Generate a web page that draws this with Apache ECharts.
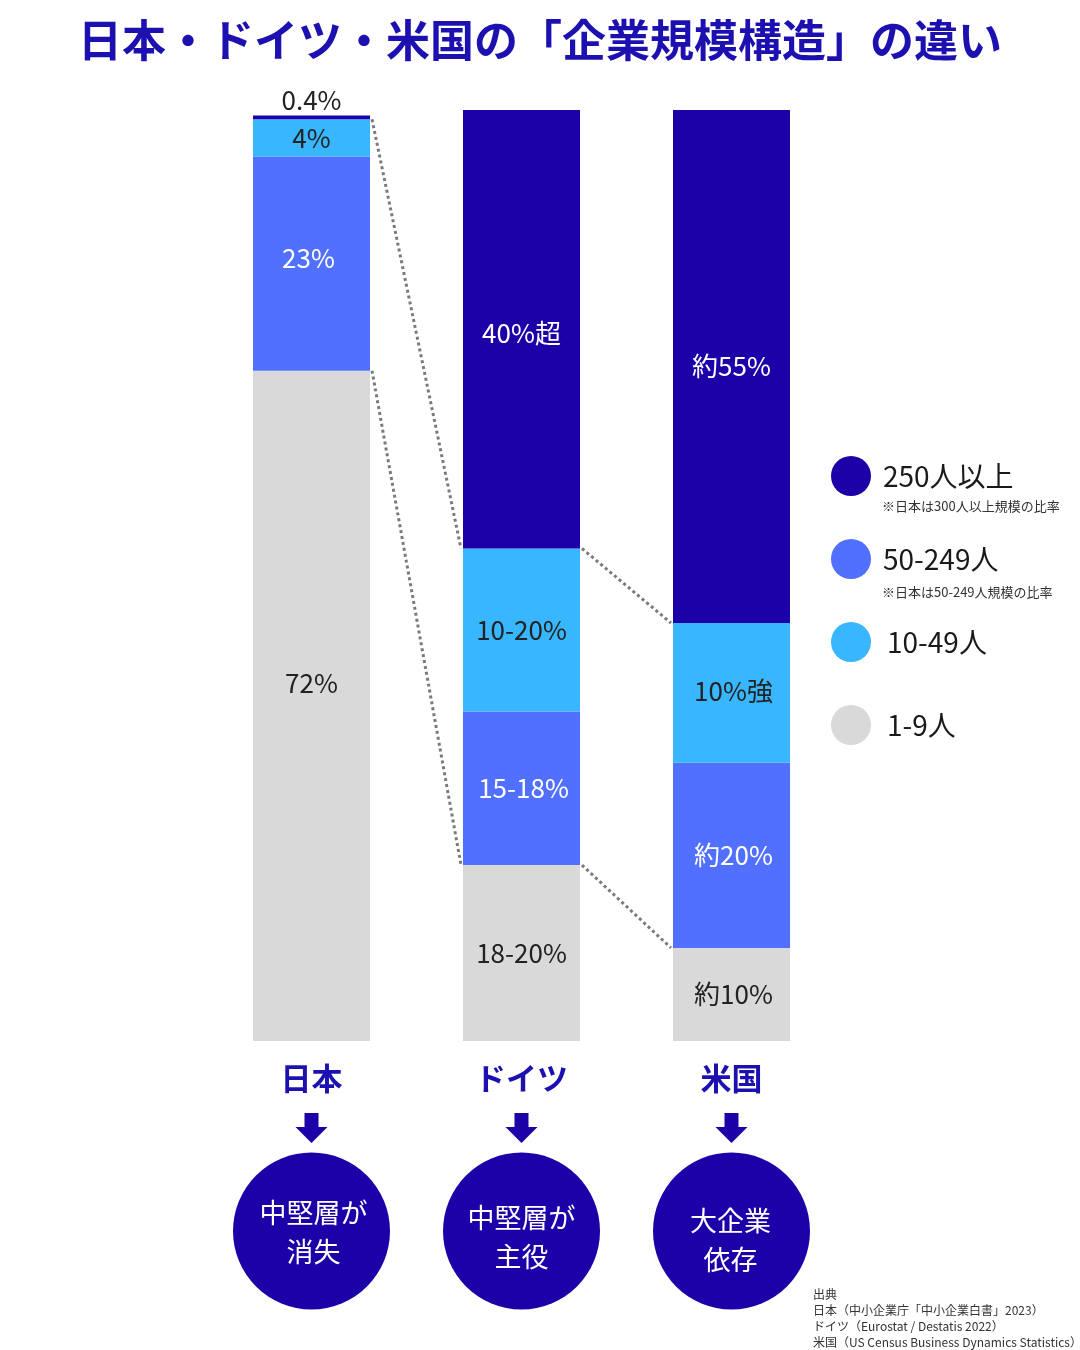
<!DOCTYPE html>
<html>
<head>
<meta charset="utf-8">
<script src="https://cdn.jsdelivr.net/npm/echarts@6/dist/echarts.min.js"></script>
<style>html,body{margin:0;padding:0;background:#fff}#c{width:1080px;height:1350px}</style>
</head>
<body>
<div id="c"></div>
<script>
// ---- data ----
const categories = ['日本', 'ドイツ', '米国'];
const seriesNames = ['1-9人', '50-249人', '10-49人', '250人以上'];
const s1to9 = [72, 18.9, 10];
const s50to249 = [23, 16.5, 19.9];
const s10to49 = [4, 17.5, 15];
const s250plus = [0.4, 47.1, 55.1];
const lbl1to9 = ['72%', '18-20%', '約10%'];
const lbl50to249 = ['23%', '15-18%', '約20%'];
const lbl10to49 = ['4%', '10-20%', '10%強'];
const lbl250plus = ['0.4%', '40%超', '約55%'];
const verdicts = ['中堅層が\n消失', '中堅層が\n主役', '大企業\n依存'];
const legendOrder = ['250人以上', '50-249人', '10-49人', '1-9人'];
const notes = ['※日本は300人以上規模の比率', '※日本は50-249人規模の比率'];
const titleText = '日本・ドイツ・米国の「企業規模構造」の違い';
const sourceText = '出典\n日本（中小企業庁「中小企業白書」2023）\nドイツ（Eurostat / Destatis 2022）\n米国（US Census Business Dynamics Statistics）';

// ---- style ----
const FONT = '"Noto Sans CJK JP", "Noto Sans", sans-serif';
const C_DARK = '#1c00a8';
const C_BLUE = '#5170ff';
const C_LIGHT = '#38b6ff';
const C_GRAY = '#d9d9d9';
const BAR_W = 117;

const colors = [C_GRAY, C_BLUE, C_LIGHT, C_DARK];
const values = [s1to9, s50to249, s10to49, s250plus];
const labels = [lbl1to9, lbl50to249, lbl10to49, lbl250plus];
const labelColors = ['#222', '#fff', '#222', '#fff'];
// small label nudges (series index, category index) -> [dx, dy]
const labelNudge = { '0-0': [0, -23], '1-0': [-3, -5], '3-1': [0, 4], '1-1': [2, 0], '0-2': [2, 0], '1-2': [2, 0], '2-2': [2, -2] };
const verdictNudge = [[2, 1], [0, 6], [-1, 9]];
const legendPad = [7, 7, 11, 11];

const barSeries = seriesNames.map((name, si) => ({
  name: name,
  type: 'bar',
  stack: 'total',
  xAxisIndex: 0,
  yAxisIndex: 0,
  barWidth: BAR_W,
  itemStyle: { color: colors[si] },
  data: values[si].map((v, ci) => {
    const item = {
      value: v,
      label: {
        show: true,
        position: 'inside',
        formatter: labels[si][ci],
        color: labelColors[si],
        fontSize: 26,
        fontFamily: FONT,
        offset: labelNudge[si + '-' + ci] || [0, 0]
      }
    };
    if (si === 3 && ci === 0) {
      item.label.position = 'top';
      item.label.color = '#222';
      item.label.distance = 2;
    }
    return item;
  })
}));

// connector data: mid tier boundaries
const lower = s1to9.map(v => v);
const upper = s1to9.map((v, i) => v + s50to249[i] + s10to49[i]);
const connData = [];
for (let i = 0; i < categories.length - 1; i++) {
  connData.push([i, upper[i], upper[i + 1], lower[i], lower[i + 1]]);
}

const option = {
  backgroundColor: '#fff',
  animation: false,
  title: {
    text: titleText,
    left: 'center',
    top: 13,
    textStyle: { fontFamily: FONT, fontSize: 44, fontWeight: 'bold', color: '#1c10b0' }
  },
  legend: {
    data: legendOrder.map((n, i) => ({ name: n, textStyle: { padding: [0, 0, 0, legendPad[i]] } })),
    orient: 'vertical',
    left: 826,
    top: 451,
    itemWidth: 40,
    itemHeight: 40,
    itemGap: 43,
    icon: 'circle',
    selectedMode: false,
    textStyle: { fontFamily: FONT, fontSize: 28, color: '#1a1a1a' }
  },
  grid: [
    { left: 206.5, width: 630, top: 110, height: 931 },
    { left: 206.5, width: 630, top: 1100, height: 200 }
  ],
  xAxis: [
    {
      type: 'category', gridIndex: 0, data: categories,
      axisLine: { show: false }, axisTick: { show: false },
      axisLabel: { margin: 22, fontFamily: FONT, fontSize: 31, fontWeight: 'bold', color: '#1c10b0' }
    },
    {
      type: 'category', gridIndex: 1, data: categories, show: false
    }
  ],
  yAxis: [
    { type: 'value', gridIndex: 0, min: 0, max: 100, show: false },
    { type: 'value', gridIndex: 1, min: 0, max: 1, show: false }
  ],
  series: barSeries.concat([
    {
      type: 'custom',
      xAxisIndex: 0, yAxisIndex: 0,
      silent: true,
      z: 5,
      encode: { x: 0, y: 1 },
      data: connData,
      renderItem: function (params, api) {
        const i = api.value(0);
        const half = BAR_W / 2 + 2;
        const a1 = api.coord([i, api.value(1)]);
        const b1 = api.coord([i + 1, api.value(2)]);
        const a2 = api.coord([i, api.value(3)]);
        const b2 = api.coord([i + 1, api.value(4)]);
        const st = { stroke: '#7a7a7a', lineWidth: 3, lineDash: [3, 3], fill: null };
        return {
          type: 'group',
          children: [
            { type: 'line', shape: { x1: a1[0] + half, y1: a1[1], x2: b1[0] - half, y2: b1[1] }, style: st },
            { type: 'line', shape: { x1: a2[0] + half, y1: a2[1], x2: b2[0] - half, y2: b2[1] }, style: st }
          ]
        };
      }
    },
    {
      type: 'scatter',
      xAxisIndex: 1, yAxisIndex: 1,
      silent: true,
      symbol: 'path://M9,0 L23,0 L23,14 L32,14 L16,30 L0,14 L9,14 Z',
      symbolSize: [32, 30],
      itemStyle: { color: C_DARK, opacity: 1 },
      data: categories.map((c, i) => [i, 0.86])
    },
    {
      type: 'scatter',
      xAxisIndex: 1, yAxisIndex: 1,
      silent: true,
      symbol: 'circle',
      symbolSize: 157,
      itemStyle: { color: C_DARK, opacity: 1 },
      label: {
        show: true,
        position: 'inside',
        color: '#fff',
        fontFamily: FONT,
        fontSize: 27,
        lineHeight: 39
      },
      data: categories.map((c, i) => ({
        value: [i, 0.345],
        label: { formatter: verdicts[i], offset: verdictNudge[i] }
      }))
    }
  ]),
  graphic: [
    {
      type: 'text', left: 882, top: 500,
      style: { text: notes[0], fontFamily: FONT, fontSize: 13, fill: '#333' }
    },
    {
      type: 'text', left: 882, top: 586,
      style: { text: notes[1], fontFamily: FONT, fontSize: 13, fill: '#333' }
    },
    {
      type: 'text', left: 813, top: 1286,
      style: { text: sourceText, fontFamily: FONT, fontSize: 12, lineHeight: 16, fill: '#333' }
    }
  ]
};

const chart = echarts.init(document.getElementById('c'), null, { renderer: 'canvas' });
chart.setOption(option);
</script>
</body>
</html>
